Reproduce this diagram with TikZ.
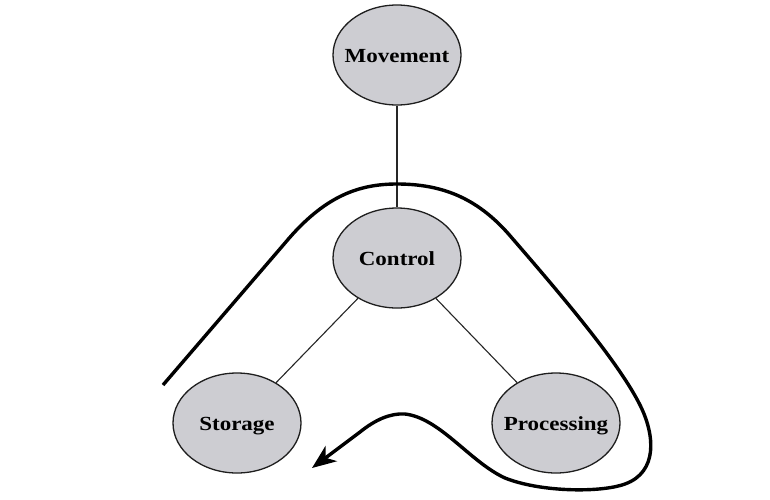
\documentclass[tikz,border=0pt]{standalone}
\usepackage{fontspec}
\usetikzlibrary{arrows.meta,shapes.geometric}
\newfontfamily\lblfont{Liberation Serif}[FakeStretch=1.15]
\definecolor{ellfill}{RGB}{205,205,210}
\definecolor{ellline}{RGB}{30,30,30}
\tikzset{
  proc/.style={ellipse, draw=ellline, line width=1.3pt, fill=ellfill,
    minimum width=128pt, minimum height=100pt, inner xsep=-30pt, inner ysep=0pt,
    text height=14pt, text depth=0pt,
    font=\lblfont\bfseries\fontsize{20}{24}\selectfont},
  link/.style={line width=1.1pt, draw=black!85},
  flow/.style={line width=3.4pt, line join=round,
    -{Stealth[length=24pt,width=19pt,inset=7pt]}}
}
\begin{document}
\begin{tikzpicture}[x=1pt,y=-1pt]
\useasboundingbox (0,0) rectangle (770,499);
\fill[white] (0,0) rectangle (770,499);
\node[proc] (mov) at (397,55) {Movement};
\node[proc] (ctl) at (397,258) {Control};
\node[proc] (sto) at (237,423) {Storage};
\node[proc] (pro) at (556,423) {Processing};
\draw[link] (mov) -- (ctl);
\draw[link] (ctl) -- (sto);
\draw[link] (ctl) -- (pro);
\coordinate (s) at (163,385);
\coordinate (e) at (312,468);
\draw[flow] (s) -- (285,243)
  .. controls (325,195) and (360,184) .. (397,184)
  .. controls (445,184) and (480,200) .. (512,238)
  .. controls (570,305) and (620,365) .. (640,405)
  .. controls (655,435) and (658,472) .. (625,484)
  .. controls (600,493) and (540,492) .. (505,478)
  .. controls (470,462) and (440,418) .. (405,414)
  .. controls (390,413) and (375,420) .. (360,432)
  -- (e);
\end{tikzpicture}
\end{document}
